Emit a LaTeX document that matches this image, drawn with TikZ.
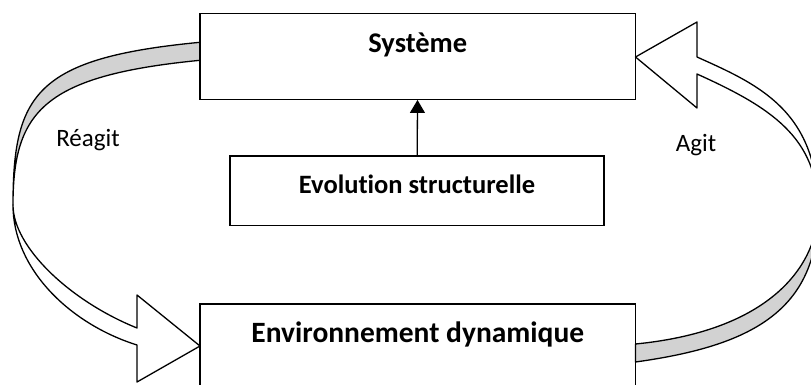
\documentclass[tikz,border=0pt]{standalone}
\usepackage{fontspec}
\setmainfont{Carlito}[Ligatures=NoCommon]
\usetikzlibrary{arrows.meta}

\definecolor{bandgray}{RGB}{210,210,210}

\tikzset{
  box/.style={draw, line width=1.3pt, inner sep=0pt, anchor=base, align=center},
  bigtext/.style={font=\bfseries\fontsize{28.5}{34}\selectfont},
  largetext/.style={font=\bfseries\fontsize{29.5}{35}\selectfont},
  midtext/.style={font=\bfseries\fontsize{26.5}{32}\selectfont},
  lbl/.style={font=\fontsize{25}{30}\selectfont, anchor=base},
  band/.style={draw, line width=1.3pt, line join=round},
}

\begin{document}
\begin{tikzpicture}[x=1pt, y=-1pt]
  \useasboundingbox (0,0) rectangle (811,385);
  \clip (0,0) rectangle (811,385);

  % Left curved block arrow: from Système down to Environnement
  \coordinate (lo) at (200,42.3);
  \coordinate (li) at (200,60.3);
  \coordinate (lmid) at (13,205);
  \path[band, fill=bandgray]
    (lo) .. controls (36,58) and (13,94) .. (lmid)
         .. controls (13,111) and (44,75.6) .. (li) -- cycle;
  \path[band, fill=white]
    (lmid) .. controls (13,247) and (70,301) .. (137,328)
    -- (137,295) -- (200,346) -- (137,382) -- (137,345)
    .. controls (70,324) and (13,269) .. (lmid) -- cycle;

  % Right curved block arrow: from Environnement up to Système
  \coordinate (rmid) at (818,210);
  \path[band, fill=white]
    (697,57) .. controls (757,84) and (818,110) .. (rmid)
    .. controls (818,137) and (770,107) .. (697,74)
    -- (697,108) -- (635.5,57) -- (697,22) -- cycle;
  \path[band, fill=bandgray]
    (rmid) .. controls (818,259) and (778,330) .. (635.5,344)
    -- (635.5,362) .. controls (751,346) and (818,311) .. (rmid) -- cycle;

  % Boxes
  \node[box, bigtext, minimum width=435.5pt, text height=39pt, text depth=47pt]
    (sys) at (417.75,52.3) {Système};
  \node[box, midtext, minimum width=374pt, text height=37.3pt, text depth=32.4pt]
    (evo) at (417,193.3) {Evolution structurelle};
  \node[box, largetext, minimum width=435.5pt, text height=38.7pt, text depth=60pt]
    (env) at (417.75,342.7) {Environnement dynamique};

  \draw[line width=1.3pt, -{Triangle[width=15pt, length=13pt]}] (evo) -- (sys);

  % Labels
  \node[lbl] (reagit) at (88,146.7) {Réagit};
  \node[lbl] (agit) at (696,151.7) {Agit};
\end{tikzpicture}
\end{document}
